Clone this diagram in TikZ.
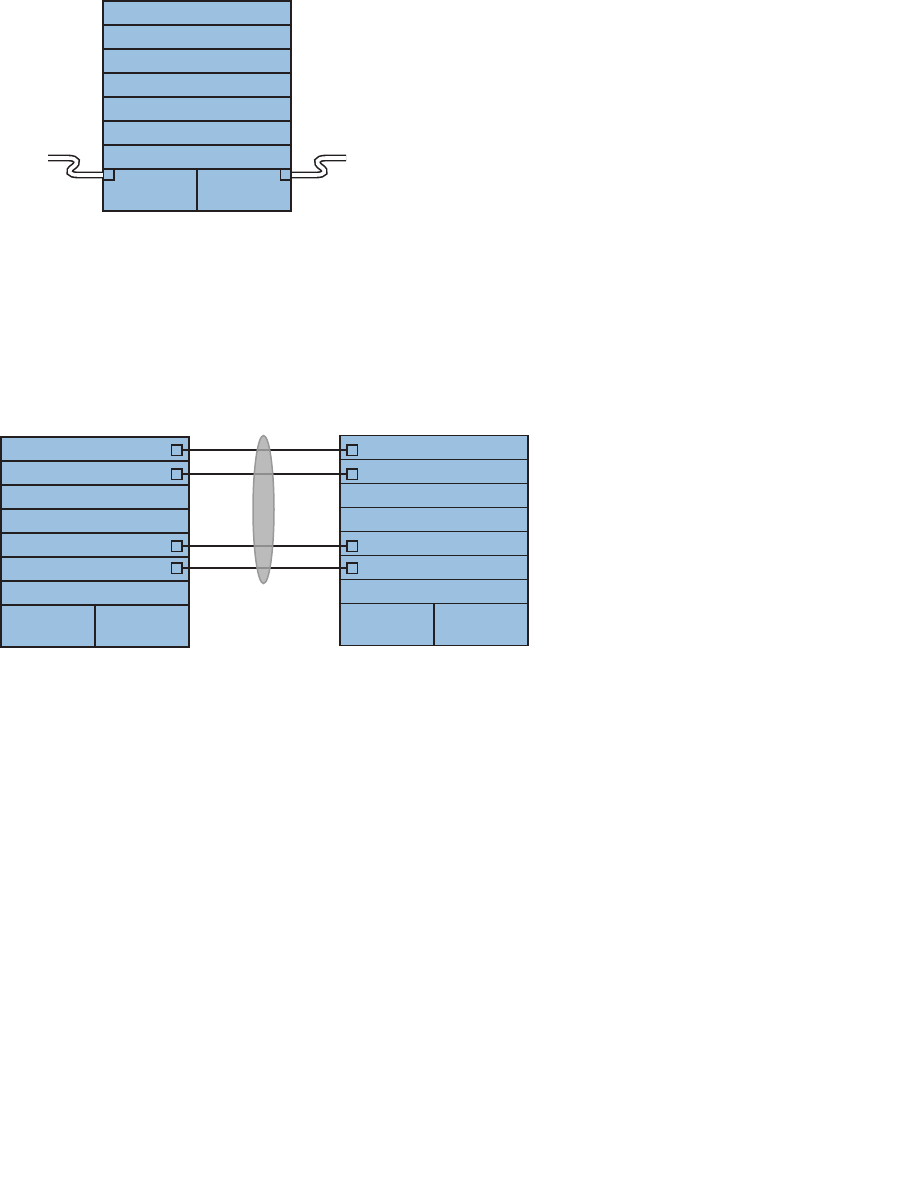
\documentclass[tikz,border=0pt]{standalone}
\usetikzlibrary{calc, shapes.geometric}
\definecolor{RBlue}{RGB}{ 156, 192, 224 }
\definecolor{DLine}{HTML}{231F20}
\definecolor{LGray}{RGB}{ 170, 170, 170 }
\definecolor{MGray}{HTML}{999999}
\NewDocumentCommand{\Rack}{O{(0,0)}}{
    \begin{scope}[shift={#1}]
    \draw[rack, fill=RBlue] (0,0) rectangle (188,210);
    \foreach \y in {24,48,...,168}
        \draw[rack] (0,\y) -- (188,\y);
    \draw[rack] (94,168) -- (94,210);
    \end{scope}
}
\begin{document}
\begin{tikzpicture}[x=1pt, y=-1pt,
    rack/.style={DLine, line width=1.5pt},
    port/.style={draw=DLine, fill=RBlue, line width=1.5pt, minimum size=10.5pt, inner sep=0pt},
    cable/.style={DLine, line width=1.6pt, double=white, double distance=3.6pt},
    link/.style={DLine, line width=1.5pt},
    lens/.style={ellipse, draw=MGray, fill=LGray, line width=1.5pt, fill opacity=0.8,
        minimum width=21pt, minimum height=148pt, inner sep=0pt}]
\useasboundingbox (0,0) rectangle (913,1189);

\Rack[(103,1)]
\Rack[(1,437)]
\Rack[(340,435.5)]

% cables on the top rack
\coordinate (cable-west) at (48,158);
\coordinate (cable-east) at (346,158);
\draw[cable] (cable-west) -- (68,158) .. controls (78,158) and (79,163) .. (73,167)
    .. controls (67,171) and (69,175) .. (78,175) -- (103,175);
\draw[cable] (cable-east) -- (326,158) .. controls (316,158) and (315,163) .. (321,167)
    .. controls (327,171) and (325,175) .. (316,175) -- (291,175);
\node[port] (top-west) at (108.5,174.5) {};
\node[port] (top-east) at (285.5,174.5) {};

% ports of the lower pair
\node[port] (A1) at (176.5,450) {};
\node[port] (A2) at (176.5,474) {};
\node[port] (A3) at (176.5,546) {};
\node[port] (A4) at (176.5,568) {};
\node[port] (B1) at (352,450) {};
\node[port] (B2) at (352,474) {};
\node[port] (B3) at (352,546) {};
\node[port] (B4) at (352,568) {};

\draw[link] (A1) -- (B1);
\draw[link] (A2) -- (B2);
\draw[link] (A3) -- (B3);
\draw[link] (A4) -- (B4);

\node[lens] (lens) at (263.5,509.5) {};

\end{tikzpicture}
\end{document}
